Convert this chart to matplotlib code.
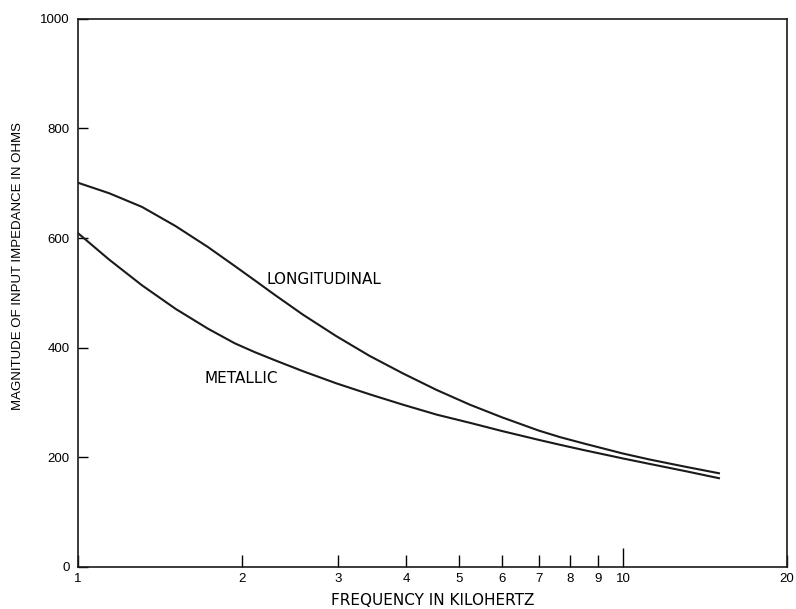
import matplotlib
matplotlib.use('Agg')
import matplotlib.pyplot as plt

plt.rcParams['font.family'] = ['Liberation Sans', 'DejaVu Sans']

# frequency in kHz and impedance magnitude in ohms
freq = [1, 1.14, 1.31, 1.51, 1.73, 1.94, 2.11, 2.3, 2.59, 2.98, 3.43, 3.95,
        4.55, 5.24, 6, 7, 7.66, 8.5, 10, 11.2, 13, 15]
longitudinal = [701, 682, 657, 622, 584, 549, 523, 496, 460, 421, 385, 353,
                323, 296, 273, 249, 237, 225, 207, 196, 183, 171]
metallic = [609, 561, 514, 471, 435, 408, 392, 377, 357, 335, 315, 296,
            278, 263, 248, 232, 223, 213, 198, 188, 175, 162]

x_ticks = [1, 2, 3, 4, 5, 6, 7, 8, 9, 10, 20]
y_ticks = [0, 200, 400, 600, 800, 1000]

fig = plt.figure(figsize=(7.96, 6.09), dpi=100, facecolor='w')
ax = fig.add_axes([0.098, 0.069, 0.8907, 0.9])

ax.plot(freq, longitudinal, color='#1a1a1a', lw=1.5)
ax.plot(freq, metallic, color='#1a1a1a', lw=1.5)

ax.set_xscale('log')
ax.set_xlim(1, 20)
ax.set_ylim(0, 1000)
ax.set_xticks(x_ticks)
ax.set_xticklabels([str(t) for t in x_ticks])
ax.xaxis.set_minor_locator(matplotlib.ticker.NullLocator())
ax.set_yticks(y_ticks)

ax.tick_params(axis='x', direction='in', length=8.5, width=1, labelsize=9.5, pad=4)
ax.tick_params(axis='y', direction='in', length=7, width=1, labelsize=9.5, pad=6)
ax.xaxis.get_major_ticks()[9].tick1line.set_markersize(14)

for s in ax.spines.values():
    s.set_linewidth(1.2)
    s.set_color('#1a1a1a')

ax.text(2.22, 516, 'LONGITUDINAL', fontsize=11, family='DejaVu Sans',
        va='baseline', ha='left')
ax.text(1.71, 336, 'METALLIC', fontsize=11, family='DejaVu Sans',
        va='baseline', ha='left')

ax.set_xlabel('FREQUENCY IN KILOHERTZ', fontsize=11, family='DejaVu Sans', labelpad=6)
ax.set_ylabel('MAGNITUDE OF INPUT IMPEDANCE IN OHMS', fontsize=9.5)
ax.yaxis.set_label_coords(-0.076, 0.549)

fig.savefig('out.png', dpi=100, facecolor='w')
plt.close()
